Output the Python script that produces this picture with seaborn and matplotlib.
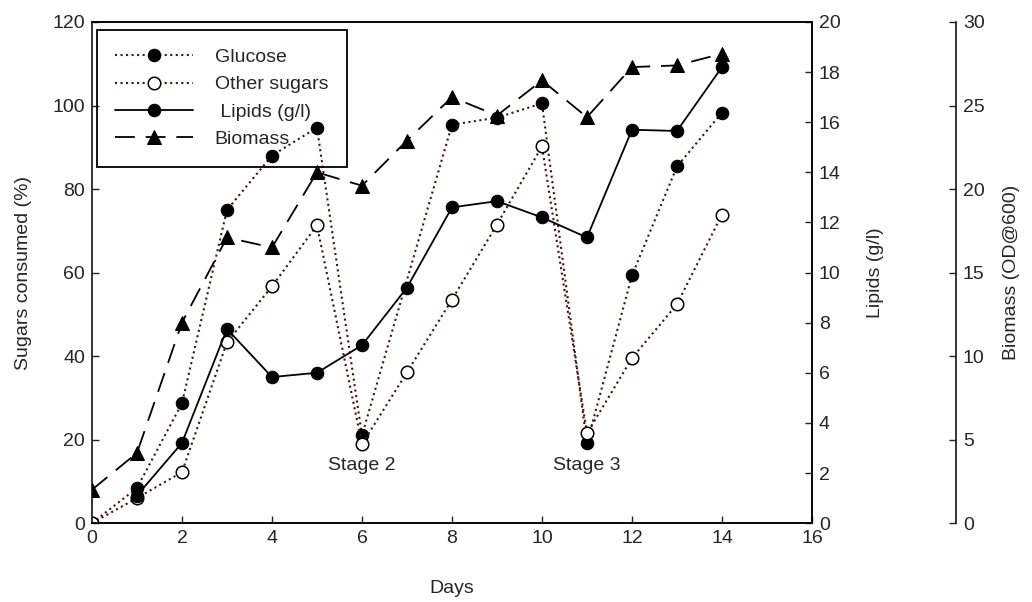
import numpy as np
import matplotlib
matplotlib.use('Agg')
import matplotlib.pyplot as plt
import seaborn as sns

# values
glucose_days = [0, 1, 2, 3, 4, 5, 6, 8, 9, 10, 11, 12, 13, 14]
glucose = [0, 8.4, 28.7, 75.0, 88.0, 94.7, 21.0, 95.4, 97.1, 100.5, 19.1, 59.3, 85.4, 98.3]

other_days = [0, 1, 2, 3, 4, 5, 6, 7, 8, 9, 10, 11, 12, 13, 14]
other_sugars = [0, 6.0, 12.2, 43.3, 56.7, 71.3, 18.9, 36.1, 53.5, 71.5, 90.2, 21.5, 39.5, 52.4, 73.9]

lipid_days = [1, 2, 3, 4, 5, 6, 7, 8, 9, 10, 11, 12, 13, 14]
lipids = [1.1, 3.2, 7.75, 5.83, 6.0, 7.1, 9.4, 12.6, 12.85, 12.2, 11.4, 15.7, 15.65, 18.2]

biomass_days = [0, 1, 2, 3, 4, 5, 6, 7, 8, 9, 10, 11, 12, 13, 14]
biomass = [2.0, 4.2, 12.0, 17.1, 16.5, 21.0, 20.2, 22.9, 25.5, 24.4, 26.5, 24.3, 27.3, 27.4, 28.1]

stage_labels = ['Stage 2', 'Stage 3']
stage_days = [6, 11]

sns.set_style('ticks')
plt.rcParams['font.family'] = ['Liberation Sans', 'DejaVu Sans']
fs = 14
plt.rcParams['font.size'] = fs

fig = plt.figure(figsize=(10.32, 6.02), dpi=100)
ax = fig.add_axes([0.0891, 0.131, 0.6977, 0.8325])
ax2 = ax.twinx()
ax3 = ax.twinx()

dot_col = '#4a1206'
ms = 9

sns.lineplot(x=glucose_days, y=glucose, ax=ax, color=dot_col, linestyle=':', lw=1.5,
             marker='o', markersize=ms, markerfacecolor='black', markeredgecolor='black',
             label='Glucose', legend=False)
sns.lineplot(x=other_days, y=other_sugars, ax=ax, color=dot_col, linestyle=':', lw=1.5,
             marker='o', markersize=ms, markerfacecolor='white', markeredgecolor='black',
             markeredgewidth=1.1, label='Other sugars', legend=False)
sns.lineplot(x=lipid_days, y=lipids, ax=ax2, color='black', linestyle='-', lw=1.3,
             marker='o', markersize=ms, markerfacecolor='black', markeredgecolor='black',
             label=' Lipids (g/l)', legend=False)
sns.lineplot(x=biomass_days, y=biomass, ax=ax3, color='black', linestyle=(0, (11, 6)), lw=1.3,
             marker='^', markersize=ms + 0.5, markerfacecolor='black', markeredgecolor='black',
             label='Biomass', legend=False)

for lab, d in zip(stage_labels, stage_days):
    ax.text(d, 13.8, lab, ha='center', va='center', fontsize=fs)

ax.set_xlim(0, 16)
ax.set_ylim(0, 120)
ax.set_xticks(np.arange(0, 17, 2))
ax.set_yticks(np.arange(0, 121, 20))
ax2.set_ylim(0, 20)
ax2.set_yticks(np.arange(0, 21, 2))
ax3.set_ylim(0, 30)
ax3.set_yticks(np.arange(0, 31, 5))

ax.set_xlabel('Days', fontsize=fs, labelpad=24)
ax.set_ylabel('Sugars consumed (%)', fontsize=fs, labelpad=15)
ax2.set_ylabel('Lipids (g/l)', fontsize=fs, labelpad=19)
ax3.set_ylabel('Biomass (OD@600)', fontsize=fs, labelpad=13)

for a in (ax, ax2, ax3):
    a.tick_params(direction='in', length=5, width=1, labelsize=fs, pad=5)
    for s in a.spines.values():
        s.set_linewidth(1.1)
        s.set_color('black')

ax.tick_params(right=False, top=False)
ax2.spines['left'].set_visible(False)
ax3.spines['left'].set_visible(False)
ax3.spines['top'].set_visible(False)
ax3.spines['bottom'].set_visible(False)
ax3.spines['right'].set_position(('axes', 1.2))

handles = []
labels = []
for a in (ax, ax2, ax3):
    h, l = a.get_legend_handles_labels()
    handles += h
    labels += l
leg = ax3.legend(handles, labels, loc='upper left', bbox_to_anchor=(0.007, 0.984),
                 borderaxespad=0, fancybox=False, edgecolor='black',
                 handlelength=4.0, handletextpad=1.1, fontsize=fs, labelspacing=0.5,
                 borderpad=0.95)
leg.get_frame().set_facecolor('none')
leg.get_frame().set_alpha(None)
leg.get_frame().set_linewidth(1.3)

fig.savefig('out.png', dpi=100)
plt.close()
